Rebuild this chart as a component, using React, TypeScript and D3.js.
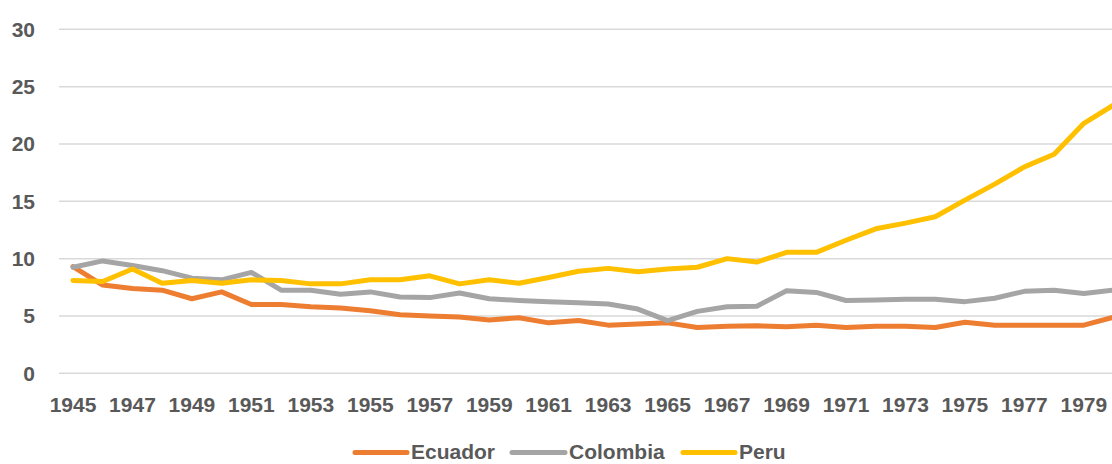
import React from 'react';
import * as d3 from 'd3';

const years = [
  1945, 1946, 1947, 1948, 1949, 1950, 1951, 1952, 1953, 1954, 1955, 1956,
  1957, 1958, 1959, 1960, 1961, 1962, 1963, 1964, 1965, 1966, 1967, 1968,
  1969, 1970, 1971, 1972, 1973, 1974, 1975, 1976, 1977, 1978, 1979, 1980,
];

const ecuador = [
  9.3, 7.7, 7.4, 7.25, 6.5, 7.1, 6.0, 6.0, 5.8, 5.7, 5.45, 5.1,
  5.0, 4.9, 4.65, 4.85, 4.4, 4.6, 4.2, 4.3, 4.4, 4.0, 4.1, 4.15,
  4.05, 4.2, 4.0, 4.1, 4.1, 4.0, 4.45, 4.2, 4.2, 4.2, 4.2, 4.9,
];

const colombia = [
  9.25, 9.8, 9.4, 8.95, 8.3, 8.15, 8.8, 7.25, 7.25, 6.9, 7.1, 6.65,
  6.6, 7.0, 6.5, 6.35, 6.25, 6.15, 6.05, 5.6, 4.6, 5.4, 5.8, 5.85,
  7.2, 7.05, 6.35, 6.4, 6.45, 6.45, 6.25, 6.55, 7.15, 7.25, 6.95, 7.25,
];

const peru = [
  8.1, 8.0, 9.1, 7.85, 8.1, 7.85, 8.15, 8.1, 7.8, 7.8, 8.15, 8.15,
  8.5, 7.8, 8.15, 7.85, 8.35, 8.9, 9.15, 8.85, 9.1, 9.25, 10.0, 9.7,
  10.55, 10.55, 11.6, 12.6, 13.1, 13.65, 15.1, 16.5, 18.0, 19.1, 21.8, 23.4,
];

const yTicks = [0, 5, 10, 15, 20, 25, 30];
const xTickYears = years.filter((_, i) => i % 2 === 0 && years[i] < 1980);

const series = [
  { name: 'Ecuador', values: ecuador, color: '#ED7D31' },
  { name: 'Colombia', values: colombia, color: '#A5A5A5' },
  { name: 'Peru', values: peru, color: '#FFC000' },
];

const W = 1112;
const H = 464;
const FONT = '"Liberation Sans", Arial, sans-serif';
const TEXT = '#595959';

export default function App() {
  const x = d3.scaleLinear().domain([1945, 1980]).range([73, 1113.6]);
  const y = d3.scaleLinear().domain([0, 30]).range([373.3, 29.3]);

  const line = d3
    .line<number>()
    .x((_, i) => x(years[i]))
    .y((d) => y(d));

  // legend swatch positions
  const legend = [
    { x0: 355, x1: 407, tx: 411 },
    { x0: 512, x1: 565, tx: 569 },
    { x0: 683, x1: 735, tx: 739 },
  ];

  return (
    <svg
      width={W}
      height={H}
      style={{ position: 'absolute', left: 0, top: 0, background: '#fff' }}
      fontFamily={FONT}
    >
      <rect width={W} height={H} fill="#fff" />
      {yTicks.map((t) => (
        <g key={t}>
          <line x1={59} x2={W} y1={y(t)} y2={y(t)} stroke="#D9D9D9" strokeWidth={1.5} />
          <text
            x={35}
            y={y(t) + 7.5}
            textAnchor="end"
            fontSize={21}
            fontWeight="bold"
            fill={TEXT}
          >
            {t}
          </text>
        </g>
      ))}
      {xTickYears.map((yr) => (
        <text
          key={yr}
          x={x(yr)}
          y={412}
          textAnchor="middle"
          fontSize={21}
          fontWeight="bold"
          fill={TEXT}
        >
          {yr}
        </text>
      ))}
      {series.map((s) => (
        <path
          key={s.name}
          d={line(s.values) || ''}
          fill="none"
          stroke={s.color}
          strokeWidth={5}
          strokeLinejoin="round"
          strokeLinecap="round"
        />
      ))}
      {series.map((s, i) => (
        <g key={s.name}>
          <line
            x1={legend[i].x0}
            x2={legend[i].x1}
            y1={452.5}
            y2={452.5}
            stroke={s.color}
            strokeWidth={5}
            strokeLinecap="round"
          />
          <text x={legend[i].tx} y={459} fontSize={21} fontWeight="bold" fill={TEXT}>
            {s.name}
          </text>
        </g>
      ))}
    </svg>
  );
}
